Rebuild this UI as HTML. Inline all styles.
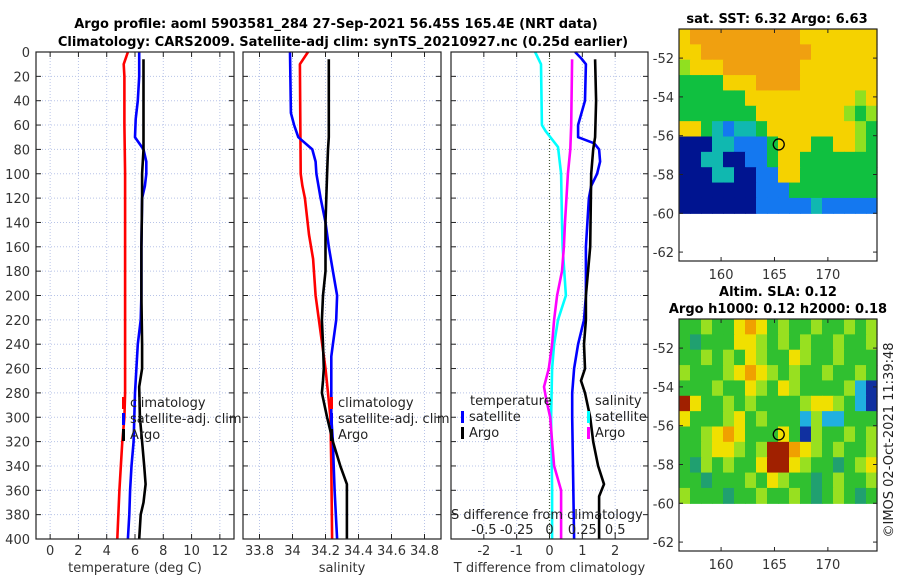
<!DOCTYPE html>
<html><head><meta charset="utf-8"><style>
html,body{margin:0;padding:0;background:#fff;}
svg{display:block;font-family:"DejaVu Sans","Liberation Sans",sans-serif;}
</style></head><body>
<svg id="fig" width="900" height="580" viewBox="0 0 900 580">
<g id="titles">
<text x="336" y="28" text-anchor="middle" font-size="13" font-weight="bold">Argo profile: aoml 5903581_284 27-Sep-2021 56.45S 165.4E (NRT data)</text>
<text x="343" y="46" text-anchor="middle" font-size="13" font-weight="bold">Climatology: CARS2009. Satellite-adj clim: synTS_20210927.nc (0.25d earlier)</text>
<text x="777" y="23" text-anchor="middle" font-size="13" font-weight="bold">sat. SST: 6.32 Argo: 6.63</text>
<text x="778" y="296" text-anchor="middle" font-size="13" font-weight="bold">Altim. SLA: 0.12</text>
<text x="778" y="313" text-anchor="middle" font-size="13" font-weight="bold">Argo h1000: 0.12 h2000: 0.18</text>
<text transform="translate(893,440) rotate(-90)" text-anchor="middle" font-size="13" fill="#222">©IMOS 02-Oct-2021 11:39:48</text>
</g>
<g id="plots"></g>
</svg>
<script>
// ---- data (depth in m) ----
const tDepthClim = [0,10,20,60,100,200,280,300,320,360,400];
const tClim = [5.5,5.2,5.25,5.25,5.3,5.3,5.3,5.25,5.1,4.9,4.75];
const tDepthSat = [0,20,40,55,70,80,90,100,110,120,160,200,220,240,260,280,300,320,340,360,380,400];
const tSat = [6.3,6.3,6.2,6.05,6.0,6.6,6.8,6.8,6.7,6.5,6.45,6.45,6.4,6.2,6.1,6.0,5.95,5.9,5.75,5.65,5.6,5.5];
const tDepthArgo = [6,80,100,120,160,200,240,260,275,300,320,340,355,370,380,400];
const tArgo = [6.6,6.6,6.5,6.5,6.45,6.45,6.5,6.5,6.3,6.35,6.5,6.65,6.75,6.6,6.4,6.3];

const sDepthClim = [0,10,100,110,120,150,170,200,220,240,260,280,300,340,400];
const sClim = [34.094,34.045,34.05,34.06,34.075,34.1,34.125,34.14,34.16,34.18,34.2,34.215,34.23,34.235,34.24];
const sDepthSat = [0,50,60,70,80,90,100,120,140,160,180,200,220,240,250,300,320,340,360,400];
const sSat = [33.985,33.99,34.01,34.035,34.12,34.14,34.145,34.17,34.2,34.22,34.245,34.27,34.265,34.245,34.235,34.235,34.245,34.25,34.255,34.27];
const sDepthArgo = [6,70,80,100,140,180,200,220,240,260,270,280,300,320,340,355,400];
const sArgo = [34.22,34.22,34.215,34.21,34.2,34.2,34.185,34.178,34.185,34.19,34.185,34.178,34.21,34.245,34.29,34.33,34.33];

const dDepthSalSat = [0,10,60,65,78,100,140,160,200,220,240,260,300,360,400];
const dSalSat = [-0.11,-0.065,-0.058,-0.03,0.065,0.088,0.095,0.1,0.125,0.065,0.035,0.02,0.012,0.02,0.02];
const dDepthSalArgo = [6,60,80,100,140,160,180,200,220,240,260,275,285,300,320,340,360,400];
const dSalArgo = [0.172,0.165,0.158,0.14,0.118,0.11,0.095,0.058,0.035,0.02,-0.005,-0.042,-0.025,0.005,0.02,0.035,0.088,0.088];
const dDepthTSat = [0,5,10,40,60,70,75,80,90,100,110,120,160,200,220,240,260,280,300,400];
const dTSat = [0.78,0.96,1.11,1.08,0.87,0.87,1.36,1.51,1.54,1.45,1.27,1.2,1.11,1.11,1.05,0.87,0.75,0.69,0.69,0.75];
const dDepthTArgo = [6,40,70,80,100,160,200,220,240,260,270,280,300,320,340,355,365,400];
const dTArgo = [1.39,1.42,1.39,1.33,1.27,1.24,1.11,1.11,1.05,1.08,0.96,1.08,1.24,1.33,1.48,1.66,1.51,1.51];

const depthTicks = [0,20,40,60,80,100,120,140,160,180,200,220,240,260,280,300,320,340,360,380,400];
const tTicks = [0,2,4,6,8,10,12];
const sTicks = [33.8,34,34.2,34.4,34.6,34.8];
const sTickLabels = ["33.8","34","34.2","34.4","34.6","34.8"];
const dTTicks = [-2,-1,0,1,2];
const dSTicks = [-0.5,-0.25,0,0.25,0.5];
const dSTickLabels = ["-0.5","-0.25","0","0.25","0.5"];

const sstRows = [
"YOOOOOOOOOOYYYYYYY","YYOOOOOOOOOOYYYYYY","gYYYOOOOOOOYYYYYYY","GGGGYYYOOOOYYYYYYY",
"GGGGGGYYYYYYYYYYgY","GGGGGGGYYYYYYYYgGg","YYGCBCCGYYYYYYYYgG","NNNCCBBBGYYYGGYYgG",
"NNCCNNBBGYYGGGGGGG","NNNCCNNBBYYGGGGGGG","NNNNNNNBBBGGGGGGGG","NNNNNNNBBBBBCBBBBB"];
const slaRows = [
"GGgGGYOYGgGGgGGgGg","GTGGGYYgGgGgGGgGGg","GGgGgGYgGGYgGGgGGG","gGGGgYOYgGgGGgGGgG",
"GGGgGGYgGYgGGGGgCB","RYGGgGgGGGGgYYgGCB","YGGGgYGgGGGCgCCGGG","GGgYOYGGGYGBgGGgGg",
"GGgYYgGgRROYgGgGGg","GTgGgGGYRRYgGGTGgY","GGTGGGgGYgGGTGgGGg","gGGGTGGgGGgGTGgGTG"];
const lonTicks = [160,165,170];
const latTicks = [-52,-54,-56,-58,-60,-62];
const argoLon = 165.4, argoLat = -56.45;

// ---- drawing ----
const NS="http://www.w3.org/2000/svg";
const root=document.getElementById('plots');
function mk(tag,attrs,parent){const e=document.createElementNS(NS,tag);for(const k in attrs)e.setAttribute(k,attrs[k]);(parent||root).appendChild(e);return e;}
const Y0=52,Y1=539;
function yD(d){return Y0+(Y1-Y0)*d/400;}
function scale(d0,d1,p0,p1){return v=>p0+(p1-p0)*(v-d0)/(d1-d0);}

function panel(name,x0,x1,xs,ticks,labels,xlabel,showY){
  const g=mk('g',{});
  
  
  ticks.forEach(t=>{const l=mk('line',{x1:xs(t),x2:xs(t),y1:Y0,y2:Y1,stroke:'#b8c4e8','stroke-width':1,'stroke-dasharray':'1,2'},g);
    });
  depthTicks.forEach(d=>{const l=mk('line',{x1:x0,x2:x1,y1:yD(d),y2:yD(d),stroke:'#b8c4e8','stroke-width':1,'stroke-dasharray':'1,2'},g);
    
    const t1=mk('line',{x1:x0,x2:x0+5,y1:yD(d),y2:yD(d),stroke:'#222'},g);
    const t2=mk('line',{x1:x1,x2:x1-5,y1:yD(d),y2:yD(d),stroke:'#222'},g);
    if(showY){const tx=mk('text',{x:x0-6,y:yD(d)+5,'text-anchor':'end','font-size':13,fill:'#333'},g);tx.textContent=d;
      }});
  ticks.forEach((t,i)=>{
    const tk=mk('line',{x1:xs(t),x2:xs(t),y1:Y1,y2:Y1-5,stroke:'#222'},g);
    const tk2=mk('line',{x1:xs(t),x2:xs(t),y1:Y0,y2:Y0+5,stroke:'#222'},g);
    const tx=mk('text',{x:xs(t),y:555,'text-anchor':'middle','font-size':13,fill:'#333'},g);tx.textContent=labels[i];
    });
  const xl=mk('text',{x:(x0+x1)/2,y:572,'text-anchor':'middle','font-size':13,fill:'#333'},g);xl.textContent=xlabel;
  
  return g;
}
function frame(g,x0,x1){const r=mk('rect',{x:x0,y:Y0,width:x1-x0,height:Y1-Y0,fill:'none',stroke:'#222','stroke-width':1.2},g);
  }
function series(g,name,depths,vals,xs,color){
  const pts=depths.map((d,i)=>xs(vals[i]).toFixed(1)+','+yD(d).toFixed(1)).join(' ');
  const p=mk('polyline',{points:pts,fill:'none',stroke:color,'stroke-width':2.6,'stroke-linejoin':'round'},g);
  
}
function legend(g,x,y,entries){
  entries.forEach((e,i)=>{
    const m=mk('rect',{x:x-2,y:y+i*16-10,width:3,height:12,fill:e[1]},g);
    
    const t=mk('text',{x:x+6,y:y+i*16,'font-size':13,fill:'#222'},g);t.textContent=e[0];
    });
}
// panel 1
const xT=scale(-1,13,36,234);
let g1=panel('temperature-panel',36,234,xT,tTicks,tTicks.map(String),'temperature (deg C)',true);
series(g1,'temp-climatology-line',tDepthClim,tClim,xT,'#ff0000');
series(g1,'temp-satellite-line',tDepthSat,tSat,xT,'#0000ff');
series(g1,'temp-argo-line',tDepthArgo,tArgo,xT,'#000');
legend(g1,124,407,[['climatology','#f00'],['satellite-adj. clim','#00f'],['Argo','#000']]);
frame(g1,36,234);
// panel 2
const xS=scale(33.7,34.9,243,441);
let g2=panel('salinity-panel',243,441,xS,sTicks,sTickLabels,'salinity',false);
series(g2,'sal-climatology-line',sDepthClim,sClim,xS,'#ff0000');
series(g2,'sal-satellite-line',sDepthSat,sSat,xS,'#0000ff');
series(g2,'sal-argo-line',sDepthArgo,sArgo,xS,'#000');
legend(g2,332,407,[['climatology','#f00'],['satellite-adj. clim','#00f'],['Argo','#000']]);
frame(g2,243,441);
// panel 3
const xD=scale(-3,3,451,648);
const xDS=v=>xD(v*4);
let g3=panel('difference-panel',451,648,xD,dTTicks,dTTicks.map(String),'T difference from climatology',false);
const zl=mk('line',{x1:xD(0),x2:xD(0),y1:Y0,y2:Y1,stroke:'#445533','stroke-width':1.2,'stroke-dasharray':'1,2'},g3);

series(g3,'sal-diff-satellite-line',dDepthSalSat,dSalSat,xDS,'#00ffff');
series(g3,'sal-diff-argo-line',dDepthSalArgo,dSalArgo,xDS,'#ff00ff');
series(g3,'temp-diff-satellite-line',dDepthTSat,dTSat,xD,'#0000ff');
series(g3,'temp-diff-argo-line',dDepthTArgo,dTArgo,xD,'#000');
let lt=mk('text',{x:470,y:405,'font-size':13,fill:'#222'},g3);lt.textContent='temperature';

let ls=mk('text',{x:595,y:405,'font-size':13,fill:'#222'},g3);ls.textContent='salinity';

legend(g3,463,421,[['satellite','#00f'],['Argo','#000']]);
legend(g3,589,421,[['satellite','#0ff'],['Argo','#f0f']]);
let st=mk('text',{x:451,y:519,'font-size':13,fill:'#222'},g3);st.textContent='S difference from climatology';

dSTicks.forEach((v,i)=>{const t=mk('text',{x:xDS(v),y:534,'text-anchor':'middle','font-size':13,fill:'#222'},g3);t.textContent=dSTickLabels[i];
  });
frame(g3,451,648);

// maps
const MX0=679,MX1=877;
function map(name,top,bottom,rows,palette){
  const g=mk('g',{});
  const lx=scale(156.06,174.6,MX0,MX1), ly=scale(-50.5,-62.46,top,bottom);
  const dataBottom=ly(-60), nr=rows.length, nc=rows[0].length;
  const cw=(MX1-MX0)/nc, ch=(dataBottom-top)/nr;
  rows.forEach((r,i)=>{for(let j=0;j<nc;j++){
    const c=mk('rect',{x:(MX0+j*cw).toFixed(2),y:(top+i*ch).toFixed(2),width:(cw+0.6).toFixed(2),height:(ch+0.6).toFixed(2),fill:palette[r[j]]},g);
    }});
  const ci=mk('circle',{cx:lx(argoLon),cy:ly(argoLat),r:5.5,fill:'none',stroke:'#000','stroke-width':1.3},g);
  
  latTicks.forEach(v=>{const y=ly(v);
    mk('line',{x1:MX0,x2:MX0+4,y1:y,y2:y,stroke:'#222'},g);mk('line',{x1:MX1,x2:MX1-4,y1:y,y2:y,stroke:'#222'},g);
    const t=mk('text',{x:MX0-5,y:y+5,'text-anchor':'end','font-size':13,fill:'#333'},g);t.textContent=v;
    });
  lonTicks.forEach(v=>{const x=lx(v);
    mk('line',{x1:x,x2:x,y1:bottom,y2:bottom-4,stroke:'#222'},g);mk('line',{x1:x,x2:x,y1:top,y2:top+4,stroke:'#222'},g);
    const t=mk('text',{x:x,y:bottom+18,'text-anchor':'middle','font-size':13,fill:'#333'},g);t.textContent=v;
    });
  const f=mk('rect',{x:MX0,y:top,width:MX1-MX0,height:bottom-top,fill:'none',stroke:'#222','stroke-width':1.2},g);
  
}
map('sst-map',29,261,sstRows,{O:'#f0a010',Y:'#f5d200',g:'#90e020',G:'#10c040',C:'#10b8b0',B:'#1478f0',N:'#001490'});
map('sla-map',319,551,slaRows,{G:'#30c030',g:'#98e020',Y:'#f0e000',O:'#f0a000',R:'#a02000',C:'#20b0e0',B:'#1030a0',T:'#20a070'});
</script>
</body></html>
